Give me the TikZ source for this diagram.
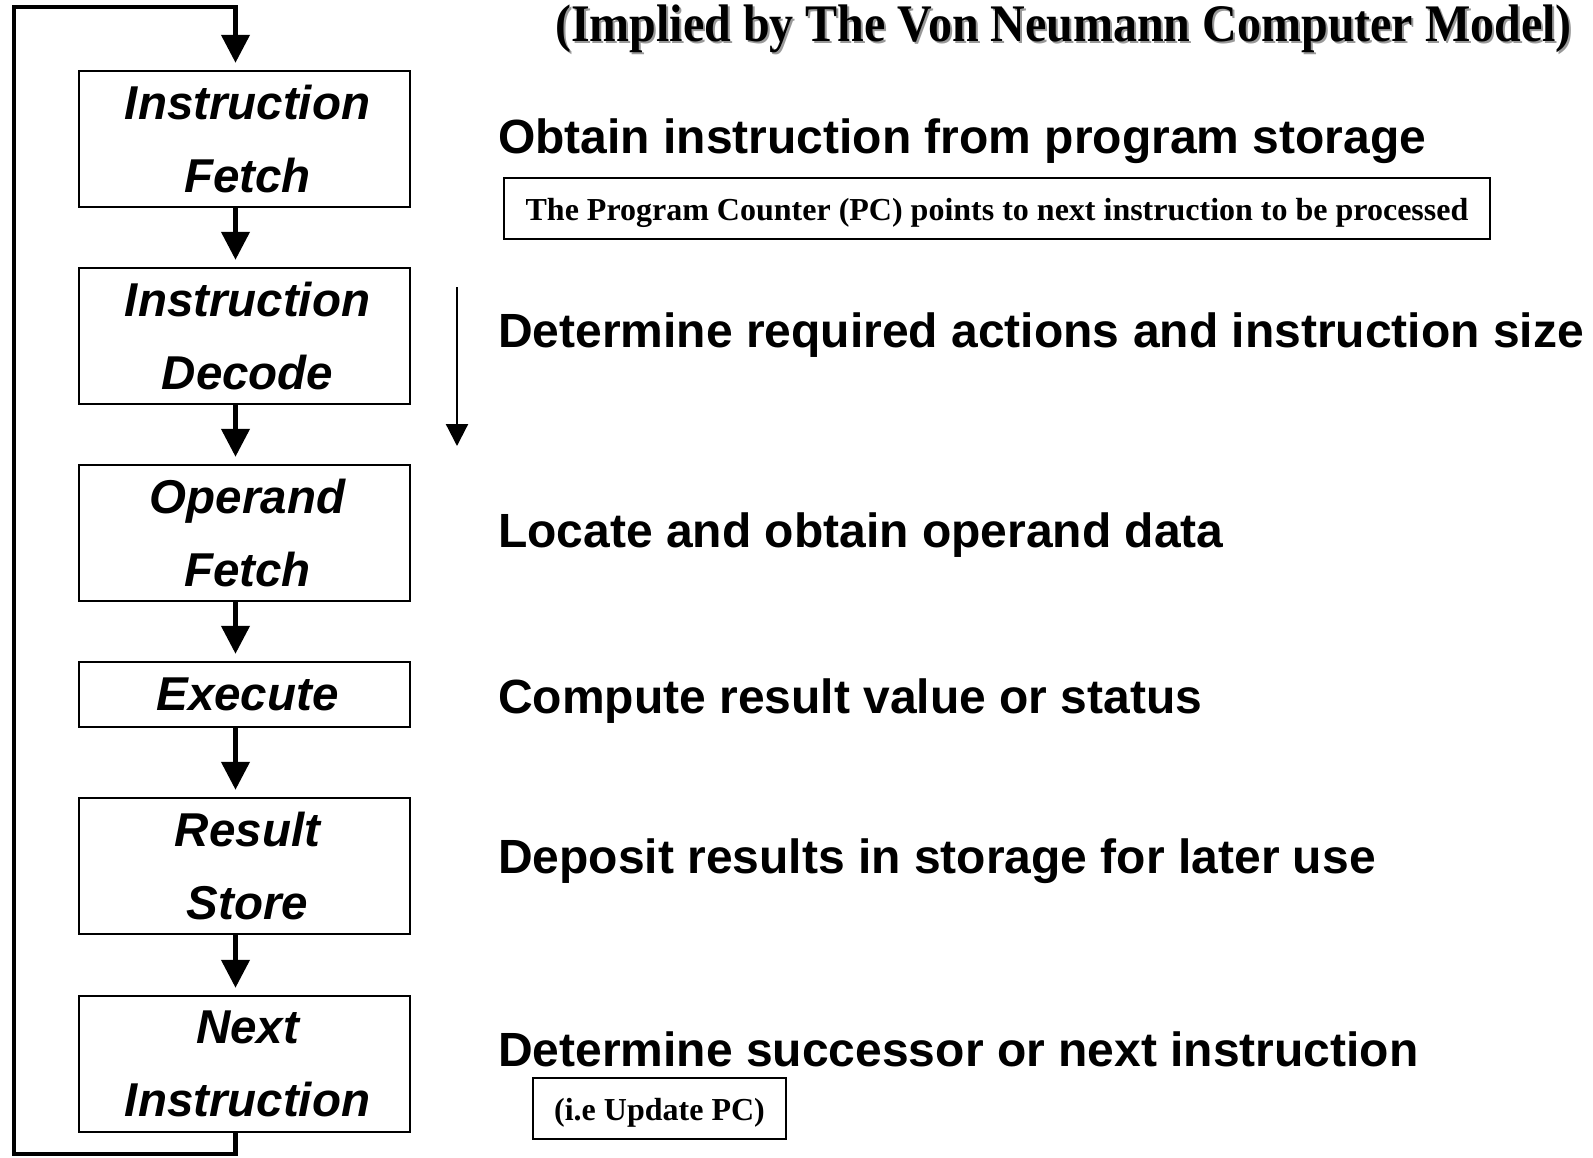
\documentclass[tikz,border=0pt]{standalone}
\usepackage{fontspec}
\setmainfont{Liberation Sans}
\newfontfamily\tnr{Liberation Serif}
\usetikzlibrary{arrows.meta}
\newcommand\stln[1]{\hspace*{6pt}#1}
\tikzset{
  stage/.style={draw, line width=2.5pt, rectangle, minimum width=331pt, inner sep=0pt, align=center,
    font=\fontsize{47.5pt}{73pt}\selectfont\bfseries\itshape},
  desc/.style={anchor=base west, inner sep=0pt, font=\fontsize{48pt}{58pt}\selectfont\bfseries},
  note/.style={draw, line width=2.5pt, rectangle, inner sep=0pt, text height=23pt, text depth=0pt,
    font=\tnr\fontsize{32pt}{38pt}\selectfont\bfseries},
  flow/.style={line width=4.5pt, line join=miter, -{Triangle[width=28pt,length=28pt]}, shorten >=7pt},
  thinflow/.style={line width=2.2pt, -{Triangle[width=22pt,length=22pt]}},
  ttl/.style={anchor=base, inner sep=0pt, font=\tnr\fontsize{48pt}{56pt}\selectfont\bfseries}
}
\begin{document}
\begin{tikzpicture}[x=1pt,y=-1pt]
\useasboundingbox[fill=white] (0,0) rectangle (1593,1157);

% title with shadow
\node[ttl, text=black!40] (ttlshadow) at (1065.5,43) {\scalebox{1}[1.1]{(Implied by The Von Neumann Computer Model)}};
\node[ttl] (title) at (1063.5,41) {\scalebox{1}[1.1]{(Implied by The Von Neumann Computer Model)}};

% stages
\node[stage, minimum height=136pt] (b1) at (244.5,139) {\stln{Instruction}\\\stln{Fetch}};
\node[stage, minimum height=136pt] (b2) at (244.5,336) {\stln{Instruction}\\\stln{Decode}};
\node[stage, minimum height=136pt] (b3) at (244.5,533) {\stln{Operand}\\\stln{Fetch}};
\node[stage, minimum height=65pt] (b4) at (244.5,694.5) {\stln{Execute}};
\node[stage, minimum height=136pt] (b5) at (244.5,866) {\stln{Result}\\\stln{Store}};
\node[stage, minimum height=136pt] (b6) at (244.5,1064) {\stln{Next}\\\stln{Instruction}};

% helper coordinates
\coordinate (ax) at (235.5,0);
\coordinate (lx) at (14,0);
\coordinate (top) at (0,7);
\coordinate (bot) at (0,1154);

% arrows between stages
\draw[flow] (b1.south -| ax) -- (b2.north -| ax);
\draw[flow] (b2.south -| ax) -- (b3.north -| ax);
\draw[flow] (b3.south -| ax) -- (b4.north -| ax);
\draw[flow] (b4.south -| ax) -- (b5.north -| ax);
\draw[flow] (b5.south -| ax) -- (b6.north -| ax);

% loop back
\draw[flow] (b6.south -| ax) -- (ax |- bot) -- (lx |- bot) -- (lx |- top) -- (ax |- top) -- (b1.north -| ax);

% thin arrow
\coordinate (t1) at (457,287);
\coordinate (t2) at (457,446);
\draw[thinflow] (t1) -- (t2);

% descriptions
\node[desc] (d1) at (498,153) {Obtain instruction from program storage};
\node[desc] (d2) at (498,347) {Determine required actions and instruction size};
\node[desc] (d3) at (498,547) {Locate and obtain operand data};
\node[desc] (d4) at (498,713) {Compute result value or status};
\node[desc] (d5) at (498,873) {Deposit results in storage for later use};
\node[desc] (d6) at (498,1066) {Determine successor or next instruction};

% notes
\node[note, minimum width=986pt, minimum height=61pt] (pc) at (997,208.5) {The Program Counter (PC) points to next instruction to be processed};
\node[note, minimum width=253pt, minimum height=61pt] (upd) at (659.5,1108.5) {(i.e Update PC)};
\end{tikzpicture}
\end{document}
